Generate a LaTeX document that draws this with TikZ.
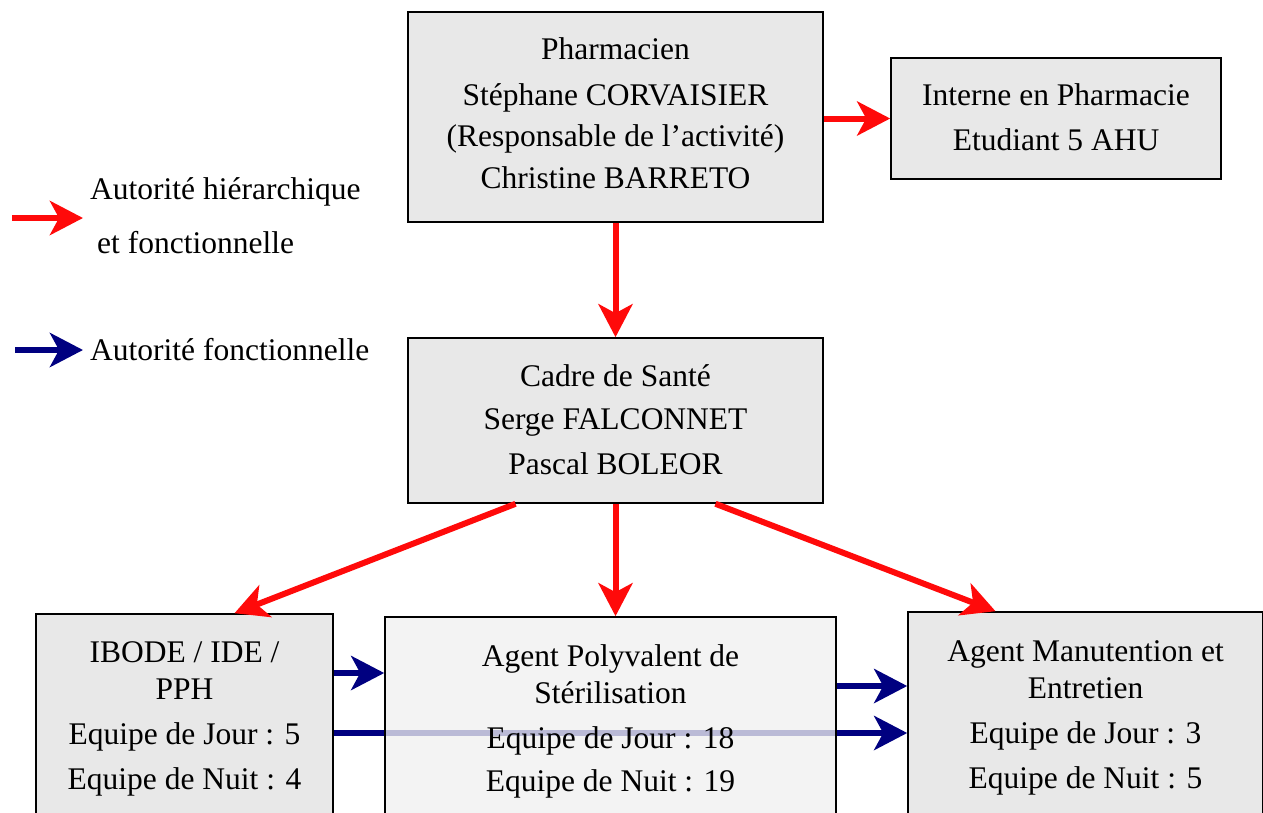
\documentclass[tikz,border=0pt]{standalone}
\usepackage{fontspec}
\setmainfont{Liberation Serif}
\usetikzlibrary{arrows.meta,calc}
\definecolor{boxgray}{HTML}{E8E8E8}
\definecolor{boxlight}{HTML}{EFEFEF}
\definecolor{arrred}{HTML}{FF0A0A}
\definecolor{arrblue}{HTML}{000080}
\tikzset{
  orgbox/.style={draw=black, line width=1.6pt, fill=boxgray, inner sep=0pt},
  boxtext/.style={align=center, inner sep=0pt, font=\fontsize{31.5}{37}\selectfont},
  legtext/.style={anchor=west, inner sep=0pt, font=\fontsize{31.5}{37}\selectfont},
  hier/.style={draw=arrred, line width=6pt, -{Stealth[length=33pt,width=34pt,inset=9pt]}},
  fonc/.style={draw=arrblue, line width=6pt, -{Stealth[length=33pt,width=34pt,inset=9pt]}},
}
\begin{document}
\begin{tikzpicture}[x=1pt,y=-1pt]
\useasboundingbox (0,0) rectangle (1263,812);

% top boxes
\node[orgbox, minimum width=415pt, minimum height=210pt] (ph) at (615.5,117) {};
\node[boxtext] (phT) at (615.5,113.5)
  {Pharmacien\\[9pt]Stéphane CORVAISIER\\[4pt](Responsable de l’activité)\\[5pt]Christine BARRETO};
\node[orgbox, minimum width=330pt, minimum height=121pt] (int) at (1056,118.5) {};
\node[boxtext] (intT) at (1056,117)
  {Interne en Pharmacie\\[8pt]Etudiant 5 AHU};
\node[orgbox, minimum width=415pt, minimum height=165pt] (cad) at (615.5,420.5) {};
\node[boxtext] (cadT) at (615.5,420)
  {Cadre de Santé\\[6pt]Serge FALCONNET\\[8pt]Pascal BOLEOR};

% bottom boxes
\node[orgbox, minimum width=297pt, minimum height=201pt] (ib) at (184.5,714.5) {};
\node[boxtext] (ibT) at (184.5,718.5)
  {IBODE / IDE /\\PPH\\[8pt]Equipe de Jour : 5\\[8pt]Equipe de Nuit : 4};
\node[orgbox, minimum width=355pt, minimum height=204pt] (man) at (1085.5,714) {};
\node[boxtext] (manT) at (1085.5,718)
  {Agent Manutention et\\Entretien\\[8pt]Equipe de Jour : 3\\[8pt]Equipe de Nuit : 5};

% helper rows for horizontal connectors
\coordinate (r1) at (0,673);
\coordinate (r2) at (0,733);
\coordinate (r3) at (0,686);

% long blue arrow drawn under the middle box
\draw[fonc] (ib.east |- r2) -- (man.west |- r2);

\node[orgbox, fill=boxlight, fill opacity=0.78, minimum width=451pt, minimum height=200pt] (pol) at (610.5,717) {};
\node[boxtext] (polT) at (610.5,721)
  {Agent Polyvalent de\\Stérilisation\\[8pt]Equipe de Jour : 18\\[6pt]Equipe de Nuit : 19};

% red connectors
\draw[hier] (ph.east |- int.west) -- (int.west);
\draw[hier] (ph.south) -- (cad.north);
\draw[hier] ([xshift=-100pt]cad.south) -- ([xshift=50pt]ib.north);
\draw[hier] (cad.south) -- (cad.south |- pol.north);
\draw[hier] ([xshift=100pt]cad.south) -- ([xshift=-90pt]man.north);

% blue connectors
\draw[fonc] (ib.east |- r1) -- (pol.west |- r1);
\draw[fonc] (pol.east |- r3) -- (man.west |- r3);

% legend
\node[legtext] (l1) at (90,192) {Autorité hiérarchique};
\node[legtext] (l2) at (97,243) {et fonctionnelle};
\node[legtext] (l3) at (90,350) {Autorité fonctionnelle};
\coordinate (lr) at (12,218);
\coordinate (lb) at (15,350);
\draw[hier] (lr) -- ([xshift=-7pt]lr -| l1.west);
\draw[fonc] (lb) -- ([xshift=-7pt]l3.west);
\end{tikzpicture}
\end{document}
